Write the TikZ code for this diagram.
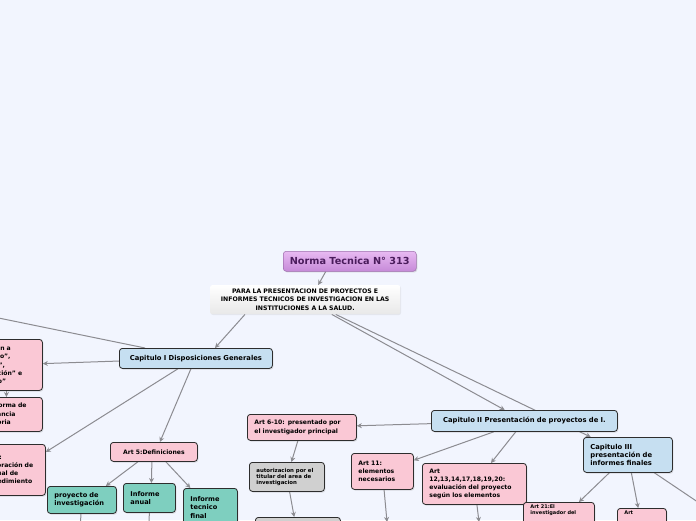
\documentclass[tikz,border=0pt]{standalone}
\usepackage{fontspec}
\setmainfont{DejaVu Sans}
\usetikzlibrary{arrows.meta,shadows}

\definecolor{fondo}{RGB}{242,245,254}
\definecolor{rosa}{RGB}{250,200,213}
\definecolor{celeste}{RGB}{198,223,241}
\definecolor{turquesa}{RGB}{126,207,191}
\definecolor{gris}{RGB}{208,208,208}
\definecolor{borde}{RGB}{45,45,45}
\definecolor{enlace}{RGB}{140,140,145}
\definecolor{lilaalto}{RGB}{232,186,242}
\definecolor{lilabajo}{RGB}{198,138,216}
\definecolor{lilatexto}{RGB}{74,28,92}

\pgfdeclarelayer{fondo}
\pgfdeclarelayer{enlaces}
\pgfsetlayers{fondo,enlaces,main}

\begin{document}
\begin{tikzpicture}[x=1pt, y=-1pt,
        link/.style={-{Stealth[length=5pt,width=5pt]}, draw=enlace, line width=1pt},
        caja/.style={draw=borde, rounded corners=3pt, line width=0.8pt, anchor=north west,
                     align=left, inner xsep=7pt, inner ysep=2pt,
                     font=\bfseries\fontsize{6.1}{8.2}\selectfont,
                     drop shadow={shadow xshift=1pt, shadow yshift=-1.2pt, opacity=0.25}},
        articulo/.style={caja, fill=rosa},
        capitulo/.style={caja, fill=celeste, font=\bfseries\fontsize{6.8}{8.2}\selectfont},
        definicion/.style={caja, fill=turquesa, font=\bfseries\fontsize{6.6}{8.3}\selectfont},
        tramite/.style={caja, fill=gris, font=\bfseries\fontsize{5.4}{6}\selectfont},
        detalle/.style={articulo, font=\bfseries\fontsize{5}{6.7}\selectfont},
        titulo/.style={draw=lilabajo!80!black, rounded corners=3pt, line width=0.5pt,
                       anchor=north west, top color=lilaalto, bottom color=lilabajo,
                       text=lilatexto, font=\bfseries\fontsize{9.7}{10}\selectfont,
                       drop shadow={shadow xshift=1pt, shadow yshift=-1.2pt, opacity=0.25}},
        encabezado/.style={anchor=north west, align=center, inner xsep=2pt,
                           top color=white, bottom color=black!9, rounded corners=2pt,
                           font=\bfseries\fontsize{6.2}{8.3}\selectfont,
                           drop shadow={shadow xshift=0.8pt, shadow yshift=-0.8pt, opacity=0.12}}
    ]
        \useasboundingbox (0,0) rectangle (696,520);
        \begin{pgfonlayer}{fondo}
            \fill[fondo] (0,0) rectangle (696,520);
        \end{pgfonlayer}

        % raiz
        \node[titulo, minimum width=133pt, minimum height=20pt] (norma) at (283,251) {Norma Tecnica N° 313};
        \node[encabezado, text width=186pt, minimum height=29pt] (sub) at (210,285)
              {PARA LA PRESENTACION DE PROYECTOS E\\INFORMES TECNICOS DE INVESTIGACION EN LAS\\INSTITUCIONES A LA SALUD.};

        % capitulo I
        \node[capitulo, align=center, text width=139pt, minimum height=20pt] (cap1) at (119,348) {Capitulo I Disposiciones Generales};
        \node[articulo, text width=60pt, minimum height=51pt] (art3) at (-32,339)
              {Relacion a\\"trabajo",\\"datos",\\"ejecución" e\\"diseño"};
        \node[articulo, text width=72pt, minimum height=34pt] (art2) at (-44,397)
              {Art 2: la norma de\\de observancia\\es obligatoria};
        \node[articulo, text width=56pt, minimum height=51pt] (art4) at (-25,444)
              {Art 4:\\elaboración de\\manual de\\procedimiento};
        \node[articulo, align=center, text width=73pt, minimum height=19pt] (art5) at (110,442) {Art 5:Definiciones};
        \node[definicion, text width=55pt, minimum height=27pt] (proy) at (47,486) {proyecto de\\investigación};
        \node[definicion, text width=38pt, minimum height=29pt] (anual) at (123,483) {Informe\\anual};
        \node[definicion, text width=40pt, minimum height=38pt] (tecfinal) at (183,488) {Informe\\tecnico\\final};

        % capitulo II
        \node[capitulo, align=center, text width=172pt, minimum height=21pt] (cap2) at (431,410) {Capitulo II Presentación de proyectos de I.};
        \node[articulo, text width=95pt, minimum height=26pt] (art610) at (247,414)
              {Art 6-10: presentado por\\el investigador principal};
        \node[tramite, text width=61pt, minimum height=29pt] (autoriz) at (249,462)
              {autorizacion por el\\titular del area de\\investigacion};
        \node[tramite, text width=71pt, minimum height=40pt] (siguiente) at (255,517) {};
        \node[articulo, text width=48pt, minimum height=36pt] (art11) at (351,453) {Art 11:\\elementos\\necesarios};
        \node[articulo, text width=90pt, minimum height=41pt] (art12) at (422,463)
              {Art\\12,13,14,17,18,19,20:\\evaluación del proyecto\\según los elementos};

        % capitulo III
        \node[capitulo, text width=75pt, minimum height=35pt] (cap3) at (583,437)
              {Capitulo III\\presentación de\\informes finales};
        \node[detalle, text width=57pt, text depth=30pt] (art21) at (523,502) {Art 21:El\\investigador del};
        \node[detalle, text width=35pt, text depth=30pt] (art22) at (617,508) {Art};

        \coordinate (haciaizq) at (-60,306);
        \coordinate (bajoproy) at (79,545);
        \coordinate (bajoanual) at (149,545);
        \coordinate (bajoart11) at (387,522);
        \coordinate (bajoart12) at (479,522);
        \coordinate (haciader) at (720,517);

        \begin{pgfonlayer}{enlaces}
            \draw[link] ([xshift=-24pt]norma.south) -- ([xshift=13pt]sub.north);
            \draw[link] ([xshift=35pt]sub.south west) -- ([xshift=96pt]cap1.north west);
            \draw[link] (sub) -- (cap2);
            \draw[link] (sub) -- (cap3);

            \draw[link] (cap1) -- (haciaizq);
            \draw[link] (cap1) -- (art3);
            \draw[link] ([xshift=1pt]art3.south) -- ([xshift=7pt]art2.north);
            \draw[link] ([xshift=-18pt]cap1.south) -- ([yshift=-8pt]art4.north east);
            \draw[link] ([xshift=-5pt]cap1.south) -- ([xshift=6pt]art5.north);
            \draw[link] ([xshift=-16pt]art5.south) -- ([xshift=-11pt]proy.north east);
            \draw[link] ([xshift=-2pt]art5.south) -- ([xshift=2pt]anual.north);
            \draw[link] ([xshift=12pt]art5.south) -- ([xshift=-20pt]tecfinal.north);
            \draw[link] (proy) -- (bajoproy);
            \draw[link] (anual) -- (bajoanual);

            \draw[link] (cap2) -- (art610);
            \draw[link] (cap2) -- (art11);
            \draw[link] (cap2) -- (art12);
            \draw[link] (art610) -- (autoriz);
            \draw[link] (autoriz) -- (siguiente);
            \draw[link] (art11) -- (bajoart11);
            \draw[link] (art12) -- (bajoart12);

            \draw[link] (cap3) -- (art21);
            \draw[link] (cap3) -- (art22);
            \draw[link] (cap3) -- (haciader);
        \end{pgfonlayer}
    \end{tikzpicture}
\end{document}
